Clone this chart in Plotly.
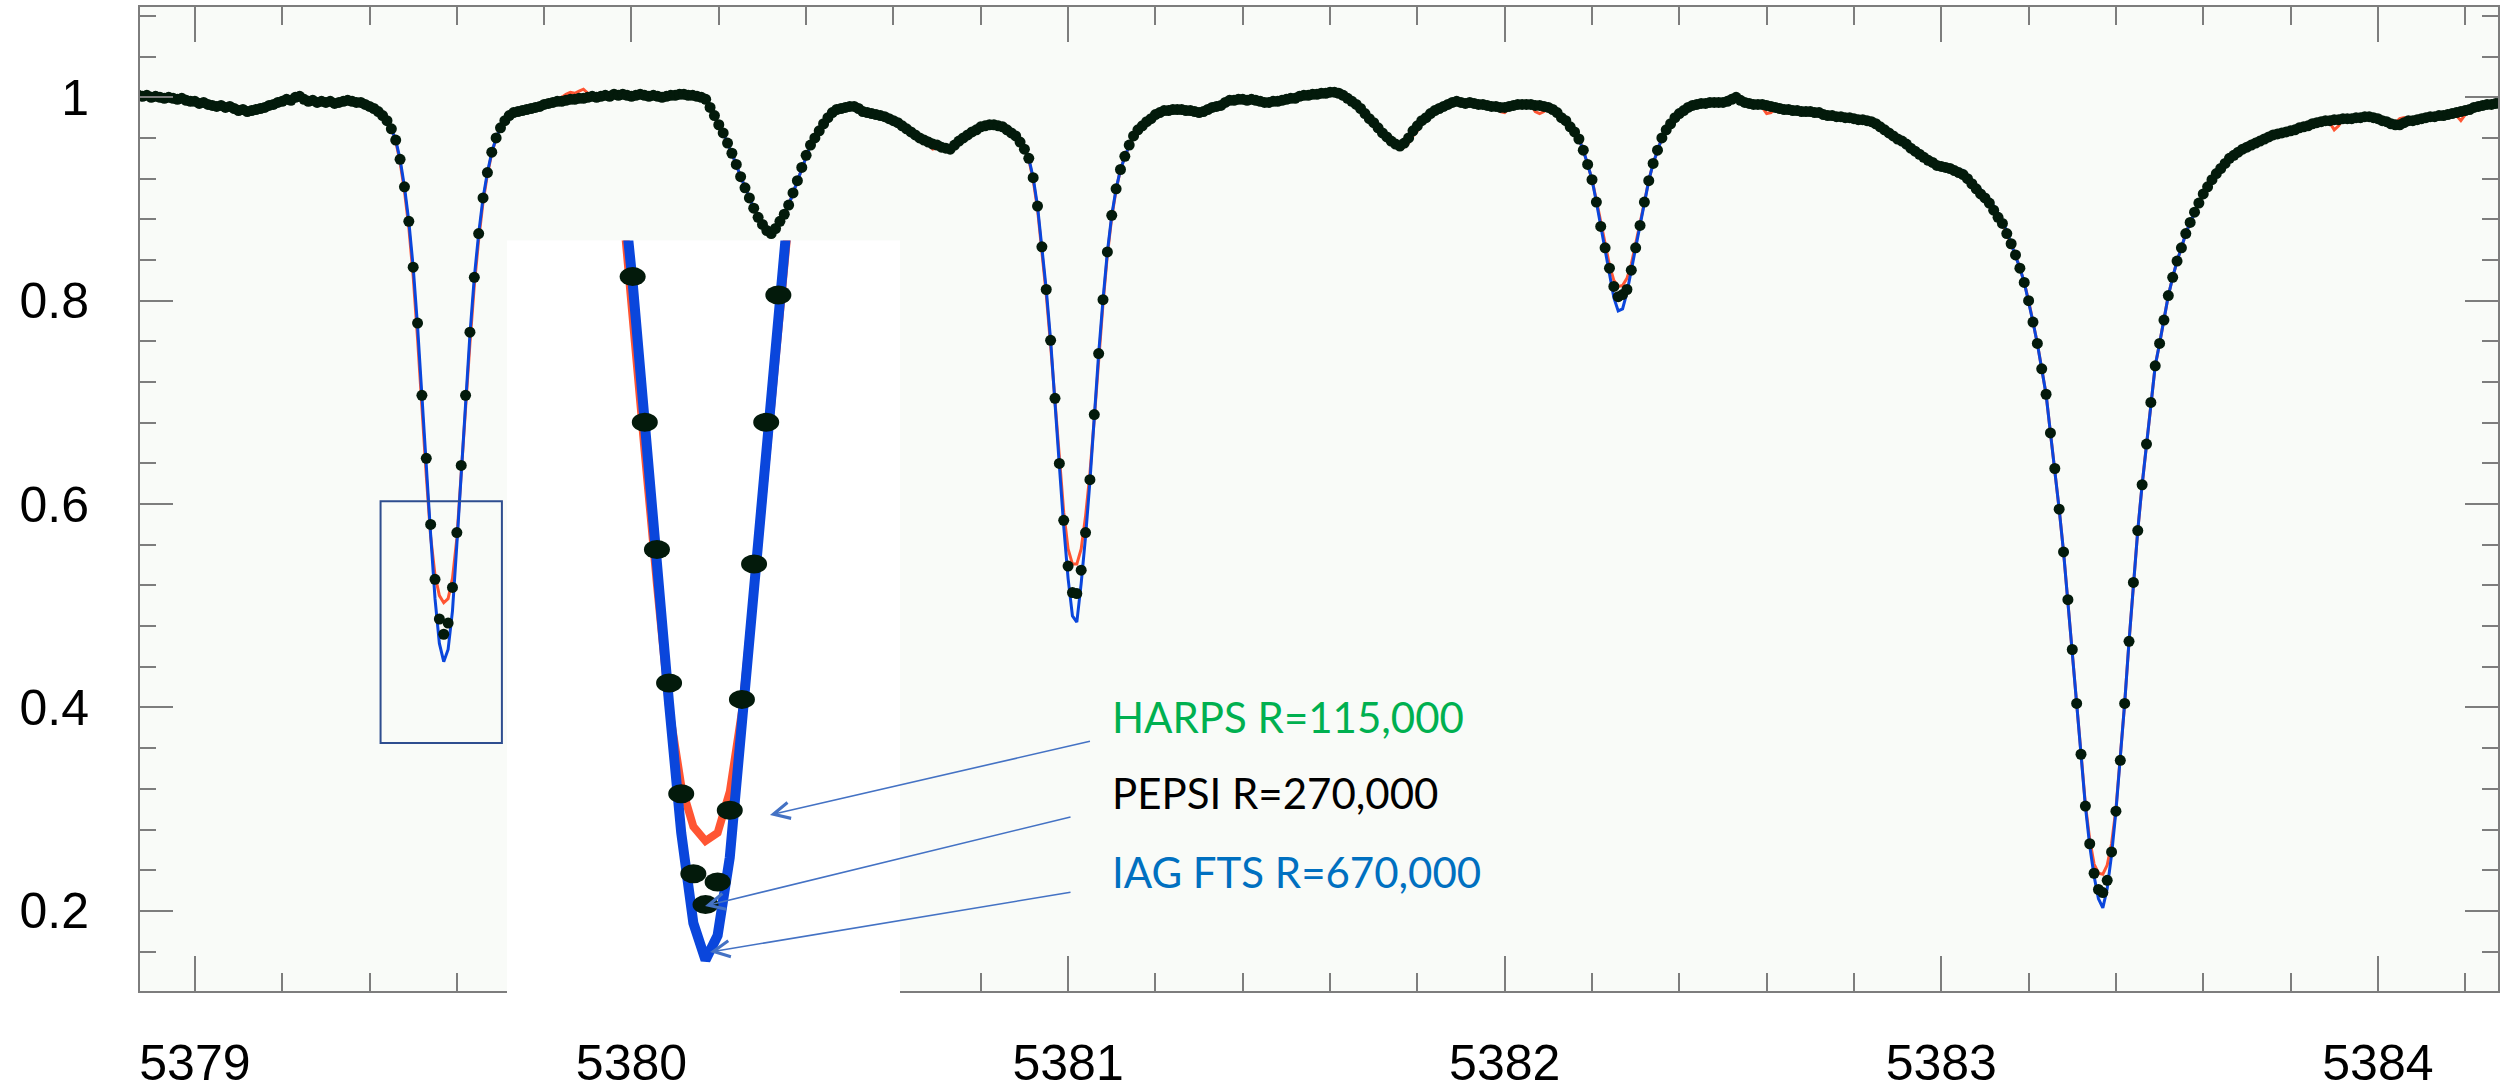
import plotly.graph_objects as go

# ---------------- data ----------------
wavelength = [
    5378.87, 5378.88, 5378.89, 5378.90, 5378.91, 5378.92, 5378.93, 5378.94, 5378.95, 5378.96,
    5378.97, 5378.98, 5378.99, 5379.00, 5379.01, 5379.02, 5379.03, 5379.04, 5379.05, 5379.06,
    5379.07, 5379.08, 5379.09, 5379.10, 5379.11, 5379.12, 5379.13, 5379.14, 5379.15, 5379.16,
    5379.17, 5379.18, 5379.19, 5379.20, 5379.21, 5379.22, 5379.23, 5379.24, 5379.25, 5379.26,
    5379.27, 5379.28, 5379.29, 5379.30, 5379.31, 5379.32, 5379.33, 5379.34, 5379.35, 5379.36,
    5379.37, 5379.38, 5379.39, 5379.40, 5379.41, 5379.42, 5379.43, 5379.44, 5379.45, 5379.46,
    5379.47, 5379.48, 5379.49, 5379.50, 5379.51, 5379.52, 5379.53, 5379.54, 5379.55, 5379.56,
    5379.57, 5379.58, 5379.59, 5379.60, 5379.61, 5379.62, 5379.63, 5379.64, 5379.65, 5379.66,
    5379.67, 5379.68, 5379.69, 5379.70, 5379.71, 5379.72, 5379.73, 5379.74, 5379.75, 5379.76,
    5379.77, 5379.78, 5379.79, 5379.80, 5379.81, 5379.82, 5379.83, 5379.84, 5379.85, 5379.86,
    5379.87, 5379.88, 5379.89, 5379.90, 5379.91, 5379.92, 5379.93, 5379.94, 5379.95, 5379.96,
    5379.97, 5379.98, 5379.99, 5380.00, 5380.01, 5380.02, 5380.03, 5380.04, 5380.05, 5380.06,
    5380.07, 5380.08, 5380.09, 5380.10, 5380.11, 5380.12, 5380.13, 5380.14, 5380.15, 5380.16,
    5380.17, 5380.18, 5380.19, 5380.20, 5380.21, 5380.22, 5380.23, 5380.24, 5380.25, 5380.26,
    5380.27, 5380.28, 5380.29, 5380.30, 5380.31, 5380.32, 5380.33, 5380.34, 5380.35, 5380.36,
    5380.37, 5380.38, 5380.39, 5380.40, 5380.41, 5380.42, 5380.43, 5380.44, 5380.45, 5380.46,
    5380.47, 5380.48, 5380.49, 5380.50, 5380.51, 5380.52, 5380.53, 5380.54, 5380.55, 5380.56,
    5380.57, 5380.58, 5380.59, 5380.60, 5380.61, 5380.62, 5380.63, 5380.64, 5380.65, 5380.66,
    5380.67, 5380.68, 5380.69, 5380.70, 5380.71, 5380.72, 5380.73, 5380.74, 5380.75, 5380.76,
    5380.77, 5380.78, 5380.79, 5380.80, 5380.81, 5380.82, 5380.83, 5380.84, 5380.85, 5380.86,
    5380.87, 5380.88, 5380.89, 5380.90, 5380.91, 5380.92, 5380.93, 5380.94, 5380.95, 5380.96,
    5380.97, 5380.98, 5380.99, 5381.00, 5381.01, 5381.02, 5381.03, 5381.04, 5381.05, 5381.06,
    5381.07, 5381.08, 5381.09, 5381.10, 5381.11, 5381.12, 5381.13, 5381.14, 5381.15, 5381.16,
    5381.17, 5381.18, 5381.19, 5381.20, 5381.21, 5381.22, 5381.23, 5381.24, 5381.25, 5381.26,
    5381.27, 5381.28, 5381.29, 5381.30, 5381.31, 5381.32, 5381.33, 5381.34, 5381.35, 5381.36,
    5381.37, 5381.38, 5381.39, 5381.40, 5381.41, 5381.42, 5381.43, 5381.44, 5381.45, 5381.46,
    5381.47, 5381.48, 5381.49, 5381.50, 5381.51, 5381.52, 5381.53, 5381.54, 5381.55, 5381.56,
    5381.57, 5381.58, 5381.59, 5381.60, 5381.61, 5381.62, 5381.63, 5381.64, 5381.65, 5381.66,
    5381.67, 5381.68, 5381.69, 5381.70, 5381.71, 5381.72, 5381.73, 5381.74, 5381.75, 5381.76,
    5381.77, 5381.78, 5381.79, 5381.80, 5381.81, 5381.82, 5381.83, 5381.84, 5381.85, 5381.86,
    5381.87, 5381.88, 5381.89, 5381.90, 5381.91, 5381.92, 5381.93, 5381.94, 5381.95, 5381.96,
    5381.97, 5381.98, 5381.99, 5382.00, 5382.01, 5382.02, 5382.03, 5382.04, 5382.05, 5382.06,
    5382.07, 5382.08, 5382.09, 5382.10, 5382.11, 5382.12, 5382.13, 5382.14, 5382.15, 5382.16,
    5382.17, 5382.18, 5382.19, 5382.20, 5382.21, 5382.22, 5382.23, 5382.24, 5382.25, 5382.26,
    5382.27, 5382.28, 5382.29, 5382.30, 5382.31, 5382.32, 5382.33, 5382.34, 5382.35, 5382.36,
    5382.37, 5382.38, 5382.39, 5382.40, 5382.41, 5382.42, 5382.43, 5382.44, 5382.45, 5382.46,
    5382.47, 5382.48, 5382.49, 5382.50, 5382.51, 5382.52, 5382.53, 5382.54, 5382.55, 5382.56,
    5382.57, 5382.58, 5382.59, 5382.60, 5382.61, 5382.62, 5382.63, 5382.64, 5382.65, 5382.66,
    5382.67, 5382.68, 5382.69, 5382.70, 5382.71, 5382.72, 5382.73, 5382.74, 5382.75, 5382.76,
    5382.77, 5382.78, 5382.79, 5382.80, 5382.81, 5382.82, 5382.83, 5382.84, 5382.85, 5382.86,
    5382.87, 5382.88, 5382.89, 5382.90, 5382.91, 5382.92, 5382.93, 5382.94, 5382.95, 5382.96,
    5382.97, 5382.98, 5382.99, 5383.00, 5383.01, 5383.02, 5383.03, 5383.04, 5383.05, 5383.06,
    5383.07, 5383.08, 5383.09, 5383.10, 5383.11, 5383.12, 5383.13, 5383.14, 5383.15, 5383.16,
    5383.17, 5383.18, 5383.19, 5383.20, 5383.21, 5383.22, 5383.23, 5383.24, 5383.25, 5383.26,
    5383.27, 5383.28, 5383.29, 5383.30, 5383.31, 5383.32, 5383.33, 5383.34, 5383.35, 5383.36,
    5383.37, 5383.38, 5383.39, 5383.40, 5383.41, 5383.42, 5383.43, 5383.44, 5383.45, 5383.46,
    5383.47, 5383.48, 5383.49, 5383.50, 5383.51, 5383.52, 5383.53, 5383.54, 5383.55, 5383.56,
    5383.57, 5383.58, 5383.59, 5383.60, 5383.61, 5383.62, 5383.63, 5383.64, 5383.65, 5383.66,
    5383.67, 5383.68, 5383.69, 5383.70, 5383.71, 5383.72, 5383.73, 5383.74, 5383.75, 5383.76,
    5383.77, 5383.78, 5383.79, 5383.80, 5383.81, 5383.82, 5383.83, 5383.84, 5383.85, 5383.86,
    5383.87, 5383.88, 5383.89, 5383.90, 5383.91, 5383.92, 5383.93, 5383.94, 5383.95, 5383.96,
    5383.97, 5383.98, 5383.99, 5384.00, 5384.01, 5384.02, 5384.03, 5384.04, 5384.05, 5384.06,
    5384.07, 5384.08, 5384.09, 5384.10, 5384.11, 5384.12, 5384.13, 5384.14, 5384.15, 5384.16,
    5384.17, 5384.18, 5384.19, 5384.20, 5384.21, 5384.22, 5384.23, 5384.24, 5384.25, 5384.26,
    5384.27, 5384.28,
]

# PEPSI (R=270,000) normalised flux, black dots
pepsi_flux = [
    1.002, 1.001, 1.002, 1.000, 1.001, 1.000, 0.999, 1.000, 0.999, 0.998,
    0.999, 0.997, 0.996, 0.996, 0.994, 0.995, 0.993, 0.992, 0.991, 0.992,
    0.990, 0.991, 0.989, 0.987, 0.988, 0.986, 0.987, 0.988, 0.989, 0.990,
    0.992, 0.993, 0.995, 0.996, 0.998, 0.997, 1.000, 1.001, 0.998, 0.996,
    0.997, 0.995, 0.996, 0.995, 0.996, 0.994, 0.995, 0.996, 0.997, 0.996,
    0.995, 0.995, 0.993, 0.991, 0.989, 0.986, 0.982, 0.977, 0.969, 0.958,
    0.939, 0.912, 0.878, 0.833, 0.778, 0.707, 0.645, 0.580, 0.526, 0.487,
    0.472, 0.483, 0.518, 0.572, 0.638, 0.707, 0.769, 0.823, 0.866, 0.901,
    0.926, 0.946, 0.960, 0.970, 0.977, 0.982, 0.985, 0.986, 0.987, 0.988,
    0.989, 0.990, 0.991, 0.993, 0.994, 0.995, 0.996, 0.996, 0.997, 0.998,
    0.998, 0.999, 0.999, 1.000, 1.001, 1.000, 1.001, 1.002, 1.001, 1.003,
    1.002, 1.003, 1.002, 1.001, 1.002, 1.003, 1.002, 1.001, 1.002, 1.001,
    1.000, 1.001, 1.002, 1.002, 1.003, 1.003, 1.002, 1.002, 1.001, 1.000,
    0.998, 0.990, 0.982, 0.973, 0.965, 0.955, 0.945, 0.934, 0.922, 0.911,
    0.901, 0.891, 0.882, 0.875, 0.869, 0.866, 0.871, 0.878, 0.885, 0.894,
    0.906, 0.918, 0.931, 0.943, 0.953, 0.960, 0.967, 0.974, 0.980, 0.985,
    0.988, 0.989, 0.990, 0.991, 0.991, 0.989, 0.986, 0.985, 0.984, 0.983,
    0.982, 0.981, 0.979, 0.977, 0.975, 0.972, 0.969, 0.966, 0.963, 0.960,
    0.958, 0.956, 0.954, 0.953, 0.951, 0.950, 0.949, 0.953, 0.957, 0.960,
    0.963, 0.966, 0.968, 0.971, 0.972, 0.973, 0.973, 0.972, 0.971, 0.968,
    0.965, 0.962, 0.956, 0.949, 0.940, 0.921, 0.893, 0.853, 0.811, 0.761,
    0.704, 0.640, 0.584, 0.539, 0.513, 0.512, 0.535, 0.572, 0.624, 0.688,
    0.748, 0.801, 0.848, 0.884, 0.910, 0.929, 0.942, 0.953, 0.962, 0.968,
    0.972, 0.976, 0.979, 0.983, 0.985, 0.987, 0.987, 0.988, 0.988, 0.988,
    0.987, 0.987, 0.986, 0.985, 0.986, 0.988, 0.990, 0.991, 0.992, 0.995,
    0.997, 0.997, 0.998, 0.998, 0.997, 0.998, 0.997, 0.996, 0.995, 0.995,
    0.996, 0.996, 0.997, 0.998, 0.999, 0.999, 1.001, 1.002, 1.002, 1.003,
    1.003, 1.004, 1.004, 1.005, 1.005, 1.004, 1.002, 0.999, 0.996, 0.993,
    0.989, 0.984, 0.979, 0.975, 0.970, 0.965, 0.961, 0.957, 0.954, 0.952,
    0.955, 0.960, 0.967, 0.972, 0.977, 0.980, 0.984, 0.987, 0.989, 0.991,
    0.993, 0.995, 0.996, 0.995, 0.994, 0.995, 0.994, 0.993, 0.993, 0.992,
    0.991, 0.991, 0.990, 0.990, 0.991, 0.992, 0.993, 0.993, 0.993, 0.993,
    0.992, 0.992, 0.991, 0.990, 0.988, 0.985, 0.980, 0.977, 0.971, 0.966,
    0.959, 0.948, 0.934, 0.919, 0.897, 0.873, 0.852, 0.832, 0.814, 0.804,
    0.806, 0.811, 0.830, 0.852, 0.874, 0.897, 0.918, 0.935, 0.948, 0.960,
    0.968, 0.974, 0.980, 0.984, 0.987, 0.990, 0.992, 0.993, 0.994, 0.994,
    0.995, 0.995, 0.995, 0.995, 0.996, 0.998, 1.000, 0.997, 0.995, 0.994,
    0.993, 0.993, 0.993, 0.992, 0.991, 0.990, 0.989, 0.988, 0.988, 0.987,
    0.987, 0.986, 0.986, 0.986, 0.985, 0.985, 0.983, 0.982, 0.982, 0.981,
    0.981, 0.980, 0.980, 0.979, 0.978, 0.978, 0.977, 0.976, 0.974, 0.971,
    0.968, 0.965, 0.962, 0.959, 0.957, 0.954, 0.950, 0.947, 0.944, 0.941,
    0.938, 0.936, 0.933, 0.932, 0.931, 0.930, 0.928, 0.926, 0.924, 0.920,
    0.915, 0.910, 0.905, 0.901, 0.896, 0.889, 0.882, 0.876, 0.866, 0.856,
    0.845, 0.832, 0.818, 0.800, 0.779, 0.758, 0.733, 0.708, 0.670, 0.635,
    0.595, 0.553, 0.506, 0.457, 0.404, 0.354, 0.303, 0.266, 0.237, 0.221,
    0.218, 0.230, 0.258, 0.298, 0.348, 0.404, 0.465, 0.523, 0.574, 0.619,
    0.659, 0.700, 0.736, 0.758, 0.781, 0.805, 0.823, 0.839, 0.852, 0.866,
    0.877, 0.887, 0.896, 0.905, 0.912, 0.919, 0.925, 0.930, 0.935, 0.940,
    0.943, 0.946, 0.949, 0.951, 0.953, 0.955, 0.957, 0.959, 0.961, 0.963,
    0.964, 0.965, 0.966, 0.967, 0.968, 0.970, 0.971, 0.972, 0.974, 0.975,
    0.976, 0.977, 0.977, 0.978, 0.978, 0.979, 0.979, 0.979, 0.980, 0.980,
    0.981, 0.981, 0.980, 0.979, 0.977, 0.976, 0.974, 0.973, 0.973, 0.975,
    0.977, 0.977, 0.978, 0.979, 0.980, 0.981, 0.981, 0.982, 0.982, 0.983,
    0.984, 0.985, 0.986, 0.987, 0.988, 0.990, 0.991, 0.992, 0.993, 0.993,
    0.994, 0.994,
]

# IAG FTS (R=670,000) normalised flux, blue line
iag_flux = [
    1.002, 1.001, 1.002, 1.000, 1.001, 1.000, 0.999, 1.000, 0.999, 0.998,
    0.999, 0.997, 0.996, 0.996, 0.994, 0.995, 0.993, 0.992, 0.991, 0.992,
    0.990, 0.991, 0.989, 0.987, 0.988, 0.986, 0.987, 0.988, 0.989, 0.990,
    0.992, 0.993, 0.995, 0.996, 0.998, 0.997, 1.000, 1.001, 0.998, 0.996,
    0.997, 0.995, 0.996, 0.995, 0.996, 0.994, 0.995, 0.996, 0.997, 0.996,
    0.995, 0.995, 0.993, 0.991, 0.989, 0.986, 0.982, 0.977, 0.969, 0.958,
    0.939, 0.912, 0.878, 0.833, 0.775, 0.702, 0.638, 0.570, 0.507, 0.463,
    0.445, 0.457, 0.495, 0.560, 0.632, 0.703, 0.767, 0.823, 0.866, 0.901,
    0.926, 0.946, 0.960, 0.970, 0.977, 0.982, 0.985, 0.986, 0.987, 0.988,
    0.989, 0.990, 0.991, 0.993, 0.994, 0.995, 0.996, 0.996, 0.997, 0.998,
    0.998, 0.999, 0.999, 1.000, 1.001, 1.000, 1.001, 1.002, 1.001, 1.003,
    1.002, 1.003, 1.002, 1.001, 1.002, 1.003, 1.002, 1.001, 1.002, 1.001,
    1.000, 1.001, 1.002, 1.002, 1.003, 1.003, 1.002, 1.002, 1.001, 1.000,
    0.998, 0.990, 0.982, 0.973, 0.965, 0.955, 0.945, 0.934, 0.922, 0.911,
    0.901, 0.891, 0.882, 0.875, 0.869, 0.866, 0.871, 0.878, 0.885, 0.894,
    0.906, 0.918, 0.931, 0.943, 0.953, 0.960, 0.967, 0.974, 0.980, 0.985,
    0.988, 0.989, 0.990, 0.991, 0.991, 0.989, 0.986, 0.985, 0.984, 0.983,
    0.982, 0.981, 0.979, 0.977, 0.975, 0.972, 0.969, 0.966, 0.963, 0.960,
    0.958, 0.956, 0.954, 0.953, 0.951, 0.950, 0.949, 0.953, 0.957, 0.960,
    0.963, 0.966, 0.968, 0.971, 0.972, 0.973, 0.973, 0.972, 0.971, 0.968,
    0.965, 0.962, 0.956, 0.949, 0.940, 0.921, 0.893, 0.853, 0.811, 0.761,
    0.704, 0.638, 0.578, 0.527, 0.490, 0.484, 0.522, 0.568, 0.622, 0.688,
    0.748, 0.801, 0.848, 0.884, 0.910, 0.929, 0.942, 0.953, 0.962, 0.968,
    0.972, 0.976, 0.979, 0.983, 0.985, 0.987, 0.987, 0.988, 0.988, 0.988,
    0.987, 0.987, 0.986, 0.985, 0.986, 0.988, 0.990, 0.991, 0.992, 0.995,
    0.997, 0.997, 0.998, 0.998, 0.997, 0.998, 0.997, 0.996, 0.995, 0.995,
    0.996, 0.996, 0.997, 0.998, 0.999, 0.999, 1.001, 1.002, 1.002, 1.003,
    1.003, 1.004, 1.004, 1.005, 1.005, 1.004, 1.002, 0.999, 0.996, 0.993,
    0.989, 0.984, 0.979, 0.975, 0.970, 0.965, 0.961, 0.956, 0.953, 0.950,
    0.954, 0.960, 0.967, 0.972, 0.977, 0.980, 0.984, 0.987, 0.989, 0.991,
    0.993, 0.995, 0.996, 0.995, 0.994, 0.995, 0.994, 0.993, 0.993, 0.992,
    0.991, 0.991, 0.990, 0.990, 0.991, 0.992, 0.993, 0.993, 0.993, 0.993,
    0.992, 0.992, 0.991, 0.990, 0.988, 0.985, 0.980, 0.977, 0.971, 0.966,
    0.959, 0.948, 0.934, 0.919, 0.897, 0.873, 0.851, 0.828, 0.803, 0.790,
    0.792, 0.808, 0.830, 0.852, 0.874, 0.897, 0.918, 0.935, 0.948, 0.960,
    0.968, 0.974, 0.980, 0.984, 0.987, 0.990, 0.992, 0.993, 0.994, 0.994,
    0.995, 0.995, 0.995, 0.995, 0.996, 0.998, 1.000, 0.997, 0.995, 0.994,
    0.993, 0.993, 0.993, 0.992, 0.991, 0.990, 0.989, 0.988, 0.988, 0.987,
    0.987, 0.986, 0.986, 0.986, 0.985, 0.985, 0.983, 0.982, 0.982, 0.981,
    0.981, 0.980, 0.980, 0.979, 0.978, 0.978, 0.977, 0.976, 0.974, 0.971,
    0.968, 0.965, 0.962, 0.959, 0.957, 0.954, 0.950, 0.947, 0.944, 0.941,
    0.938, 0.936, 0.933, 0.932, 0.931, 0.930, 0.928, 0.926, 0.928, 0.924,
    0.919, 0.914, 0.909, 0.905, 0.900, 0.893, 0.886, 0.879, 0.868, 0.856,
    0.845, 0.832, 0.818, 0.800, 0.779, 0.758, 0.733, 0.708, 0.670, 0.635,
    0.595, 0.553, 0.506, 0.457, 0.404, 0.354, 0.303, 0.264, 0.234, 0.212,
    0.203, 0.222, 0.255, 0.298, 0.348, 0.404, 0.465, 0.523, 0.574, 0.619,
    0.659, 0.700, 0.736, 0.758, 0.781, 0.805, 0.823, 0.839, 0.852, 0.866,
    0.877, 0.887, 0.896, 0.905, 0.912, 0.919, 0.925, 0.930, 0.935, 0.940,
    0.943, 0.946, 0.949, 0.951, 0.953, 0.955, 0.957, 0.959, 0.961, 0.963,
    0.964, 0.965, 0.966, 0.967, 0.968, 0.970, 0.971, 0.972, 0.974, 0.975,
    0.976, 0.977, 0.977, 0.978, 0.978, 0.979, 0.979, 0.979, 0.980, 0.980,
    0.981, 0.981, 0.980, 0.979, 0.977, 0.976, 0.974, 0.973, 0.973, 0.975,
    0.977, 0.977, 0.978, 0.979, 0.980, 0.981, 0.981, 0.982, 0.982, 0.983,
    0.984, 0.985, 0.986, 0.987, 0.988, 0.990, 0.991, 0.992, 0.993, 0.993,
    0.994, 0.994,
]

# HARPS (R=115,000) normalised flux, red line
harps_flux = [
    1.002, 1.001, 1.002, 1.000, 1.001, 1.000, 0.999, 1.000, 0.999, 0.998,
    0.999, 0.997, 0.996, 0.996, 0.994, 0.995, 0.993, 0.992, 0.991, 0.992,
    0.990, 0.991, 0.989, 0.991, 0.989, 0.986, 0.987, 0.988, 0.989, 0.990,
    0.992, 0.993, 0.995, 0.996, 0.998, 0.997, 1.000, 1.001, 0.998, 0.996,
    0.997, 0.995, 0.996, 0.995, 0.996, 0.994, 0.995, 0.996, 0.997, 0.996,
    0.995, 0.995, 0.993, 0.991, 0.989, 0.986, 0.982, 0.977, 0.969, 0.957,
    0.936, 0.908, 0.872, 0.824, 0.763, 0.692, 0.628, 0.568, 0.530, 0.510,
    0.503, 0.507, 0.527, 0.566, 0.626, 0.694, 0.758, 0.815, 0.860, 0.897,
    0.924, 0.945, 0.960, 0.970, 0.977, 0.982, 0.985, 0.986, 0.987, 0.988,
    0.989, 0.990, 0.991, 0.993, 0.994, 0.995, 0.996, 1.000, 1.003, 1.005,
    1.004, 1.006, 1.008, 1.004, 1.002, 1.000, 1.001, 1.002, 1.001, 1.003,
    1.002, 1.003, 1.002, 1.001, 1.002, 1.003, 1.002, 1.001, 1.002, 1.001,
    1.000, 1.001, 1.002, 1.002, 1.003, 1.003, 1.002, 1.002, 1.001, 1.000,
    0.998, 0.990, 0.982, 0.973, 0.965, 0.955, 0.945, 0.934, 0.922, 0.911,
    0.901, 0.891, 0.882, 0.875, 0.869, 0.866, 0.871, 0.878, 0.885, 0.894,
    0.906, 0.918, 0.931, 0.943, 0.953, 0.960, 0.967, 0.974, 0.980, 0.985,
    0.988, 0.989, 0.990, 0.991, 0.991, 0.989, 0.986, 0.985, 0.984, 0.983,
    0.982, 0.981, 0.979, 0.977, 0.975, 0.972, 0.969, 0.966, 0.963, 0.960,
    0.958, 0.955, 0.949, 0.950, 0.951, 0.950, 0.949, 0.953, 0.957, 0.960,
    0.963, 0.966, 0.968, 0.971, 0.972, 0.973, 0.973, 0.972, 0.971, 0.968,
    0.965, 0.962, 0.956, 0.949, 0.939, 0.919, 0.890, 0.849, 0.806, 0.756,
    0.701, 0.641, 0.592, 0.556, 0.541, 0.541, 0.556, 0.588, 0.630, 0.684,
    0.744, 0.797, 0.845, 0.882, 0.909, 0.929, 0.942, 0.953, 0.962, 0.968,
    0.972, 0.976, 0.979, 0.983, 0.985, 0.987, 0.987, 0.988, 0.988, 0.988,
    0.987, 0.987, 0.986, 0.985, 0.986, 0.988, 0.990, 0.991, 0.992, 0.995,
    0.997, 0.997, 0.998, 0.998, 0.997, 0.998, 0.997, 0.996, 0.995, 0.995,
    0.996, 0.996, 0.997, 0.998, 0.999, 0.999, 1.001, 1.002, 1.002, 1.003,
    1.003, 1.004, 1.004, 1.005, 1.005, 1.004, 1.002, 0.999, 0.996, 0.993,
    0.989, 0.984, 0.979, 0.975, 0.970, 0.965, 0.961, 0.957, 0.954, 0.952,
    0.951, 0.955, 0.962, 0.967, 0.974, 0.979, 0.984, 0.987, 0.989, 0.991,
    0.993, 0.995, 0.996, 0.995, 0.994, 0.995, 0.994, 0.993, 0.993, 0.992,
    0.991, 0.991, 0.986, 0.985, 0.989, 0.992, 0.993, 0.993, 0.993, 0.993,
    0.986, 0.984, 0.986, 0.990, 0.988, 0.985, 0.980, 0.977, 0.971, 0.966,
    0.959, 0.948, 0.934, 0.919, 0.899, 0.877, 0.856, 0.835, 0.820, 0.814,
    0.815, 0.822, 0.836, 0.855, 0.876, 0.897, 0.918, 0.935, 0.948, 0.960,
    0.968, 0.974, 0.980, 0.984, 0.987, 0.990, 0.992, 0.993, 0.994, 0.994,
    0.995, 0.995, 0.995, 0.995, 0.996, 0.998, 1.000, 0.997, 0.995, 0.994,
    0.993, 0.993, 0.990, 0.984, 0.985, 0.989, 0.989, 0.988, 0.988, 0.987,
    0.987, 0.986, 0.986, 0.986, 0.985, 0.985, 0.983, 0.982, 0.982, 0.981,
    0.981, 0.980, 0.980, 0.979, 0.978, 0.978, 0.977, 0.976, 0.974, 0.971,
    0.968, 0.965, 0.962, 0.959, 0.957, 0.954, 0.950, 0.947, 0.944, 0.941,
    0.938, 0.936, 0.933, 0.932, 0.931, 0.930, 0.928, 0.926, 0.924, 0.920,
    0.915, 0.910, 0.905, 0.901, 0.896, 0.889, 0.882, 0.876, 0.866, 0.856,
    0.845, 0.832, 0.818, 0.800, 0.779, 0.758, 0.733, 0.708, 0.670, 0.635,
    0.595, 0.553, 0.506, 0.457, 0.404, 0.355, 0.305, 0.270, 0.246, 0.237,
    0.236, 0.245, 0.266, 0.300, 0.348, 0.404, 0.465, 0.523, 0.574, 0.619,
    0.659, 0.700, 0.736, 0.758, 0.781, 0.805, 0.823, 0.839, 0.852, 0.866,
    0.877, 0.887, 0.896, 0.905, 0.912, 0.919, 0.925, 0.930, 0.935, 0.940,
    0.943, 0.946, 0.949, 0.951, 0.953, 0.955, 0.957, 0.959, 0.961, 0.963,
    0.964, 0.965, 0.966, 0.967, 0.968, 0.970, 0.971, 0.972, 0.974, 0.975,
    0.976, 0.977, 0.975, 0.968, 0.972, 0.979, 0.979, 0.979, 0.980, 0.980,
    0.981, 0.981, 0.980, 0.979, 0.977, 0.976, 0.974, 0.975, 0.979, 0.980,
    0.977, 0.977, 0.978, 0.979, 0.980, 0.981, 0.981, 0.982, 0.982, 0.983,
    0.984, 0.982, 0.977, 0.983, 0.988, 0.990, 0.991, 0.992, 0.993, 0.993,
    0.994, 0.994,
]

assert len(wavelength) == len(pepsi_flux) == len(iag_flux) == len(harps_flux)

# axis settings
x_range = [5378.8743, 5384.2751]
y_range = [0.1212, 1.0888]
zoom_x_range = [5379.4065, 5379.7302]      # magnified inset (same data)
zoom_y_range = [0.4070, 0.7956]
zoom_box = dict(x0=5379.4253, x1=5379.7032, y0=0.3651, y1=0.6027)  # region marked in main panel

series_labels = ["HARPS R=115,000", "PEPSI R=270,000", "IAG FTS R=670,000"]
label_colors = ["#00b050", "#000000", "#0070c0"]
label_x = 5381.095
label_y = [0.3902, 0.3159, 0.2387]

# arrows: tip in inset data coords, tail offset in px
arrow_tips = [(5379.6231, 0.5157), (5379.5696, 0.4713), (5379.5737, 0.4489)]
arrow_tails = [(321.5, -74.0), (367.0, -89.5), (362.0, -60.0)]

# ---------------- styling ----------------
RED = "#ff5533"
BLUE = "#0a46dc"
DOT = "#031a0b"
AX = "#7d7d7d"
ARROW = "#4472c4"
TICKFONT = dict(family="Liberation Sans, Arial, sans-serif", size=50, color="#000000")

W, H = 2504, 1091
ML, MR, MT, MB = 140, 6, 7, 51
plot_h = H - MT - MB
main_y_domain = [(1040 - 991) / plot_h, 1.0]
inset_x_domain = [(507 - ML) / (W - ML - MR), (900 - ML) / (W - ML - MR)]
inset_y_domain = [(1040 - 1038) / plot_h, (1040 - 240.5) / plot_h]

fig = go.Figure()

# main panel
fig.add_trace(go.Scatter(x=wavelength, y=harps_flux, mode="lines", name="HARPS",
                         line=dict(color=RED, width=3), xaxis="x", yaxis="y", hoverinfo="skip"))
fig.add_trace(go.Scatter(x=wavelength, y=iag_flux, mode="lines", name="IAG FTS",
                         line=dict(color=BLUE, width=3), xaxis="x", yaxis="y", hoverinfo="skip"))
fig.add_trace(go.Scatter(x=wavelength, y=pepsi_flux, mode="markers", name="PEPSI",
                         marker=dict(color=DOT, size=11, line=dict(width=0)),
                         xaxis="x", yaxis="y", hoverinfo="skip"))

# inset (magnified)
fig.add_trace(go.Scatter(x=wavelength, y=harps_flux, mode="lines",
                         line=dict(color=RED, width=8), xaxis="x2", yaxis="y2", hoverinfo="skip"))
fig.add_trace(go.Scatter(x=wavelength, y=iag_flux, mode="lines",
                         line=dict(color=BLUE, width=10), xaxis="x2", yaxis="y2", hoverinfo="skip"))

shapes = []
# white background of inset (drawn inside inset subplot, above main axes)
shapes.append(dict(type="rect", xref="x2", yref="y2", layer="below",
                   x0=zoom_x_range[0] - 0.1, x1=zoom_x_range[1] + 0.1,
                   y0=zoom_y_range[0] - 0.1, y1=zoom_y_range[1] + 0.1,
                   fillcolor="#ffffff", line=dict(width=0)))
# marked region in main panel
shapes.append(dict(type="rect", xref="x", yref="y", layer="above",
                   line=dict(color="#2e4d8f", width=2), fillcolor="rgba(0,0,0,0)", **zoom_box))
# PEPSI samples in the inset as elliptical dots
for w, f in zip(wavelength, pepsi_flux):
    if zoom_x_range[0] - 0.02 <= w <= zoom_x_range[1] + 0.02:
        shapes.append(dict(type="circle", xref="x2", yref="y2", layer="above",
                           xsizemode="pixel", ysizemode="pixel", xanchor=w, yanchor=f,
                           x0=-13, x1=13, y0=-9.5, y1=9.5,
                           fillcolor=DOT, line=dict(width=0)))

annotations = []
for txt, col, yv in zip(series_labels, label_colors, label_y):
    annotations.append(dict(x=label_x, y=yv, xref="x", yref="y", text=txt, showarrow=False,
                            xanchor="left", yanchor="middle",
                            font=dict(family="Lato, Open Sans, sans-serif", size=42, color=col)))
for (tx, ty), (ax, ay) in zip(arrow_tips, arrow_tails):
    annotations.append(dict(x=tx, y=ty, xref="x2", yref="y2", text="", showarrow=True,
                            ax=ax, ay=ay, axref="pixel", ayref="pixel",
                            arrowhead=5, arrowsize=2.0, arrowwidth=1.6, arrowcolor=ARROW,
                            standoff=0, startstandoff=0))

axis_common = dict(showline=True, linecolor=AX, linewidth=2, mirror="allticks",
                   ticks="inside", tickwidth=2, tickcolor=AX, showgrid=False, zeroline=False,
                   tickfont=TICKFONT, automargin=False)

fig.update_layout(
    width=W, height=H, autosize=False,
    margin=dict(l=ML, r=MR, t=MT, b=MB, pad=0),
    paper_bgcolor="#ffffff", plot_bgcolor="#f9fbf8",
    showlegend=False,
    xaxis=dict(range=x_range, domain=[0, 1], anchor="y", tickmode="linear", tick0=5379, dtick=1,
               tickformat="d", ticklen=35, ticklabelstandoff=27,
               minor=dict(tick0=5379, dtick=0.2, ticks="inside", ticklen=18, tickwidth=2,
                          tickcolor=AX, showgrid=False),
               **axis_common),
    yaxis=dict(range=y_range, domain=main_y_domain, anchor="x", tickmode="linear", tick0=0.2, dtick=0.2,
               ticklen=33, ticklabelstandoff=39,
               minor=dict(tick0=0.2, dtick=0.04, ticks="inside", ticklen=16, tickwidth=2,
                          tickcolor=AX, showgrid=False),
               **axis_common),
    xaxis2=dict(range=zoom_x_range, domain=inset_x_domain, anchor="y2", showline=False,
                showticklabels=False, ticks="", showgrid=False, zeroline=False, automargin=False),
    yaxis2=dict(range=zoom_y_range, domain=inset_y_domain, anchor="x2", showline=False,
                showticklabels=False, ticks="", showgrid=False, zeroline=False, automargin=False),
    shapes=shapes,
    annotations=annotations,
)

fig.write_html("out.html")
